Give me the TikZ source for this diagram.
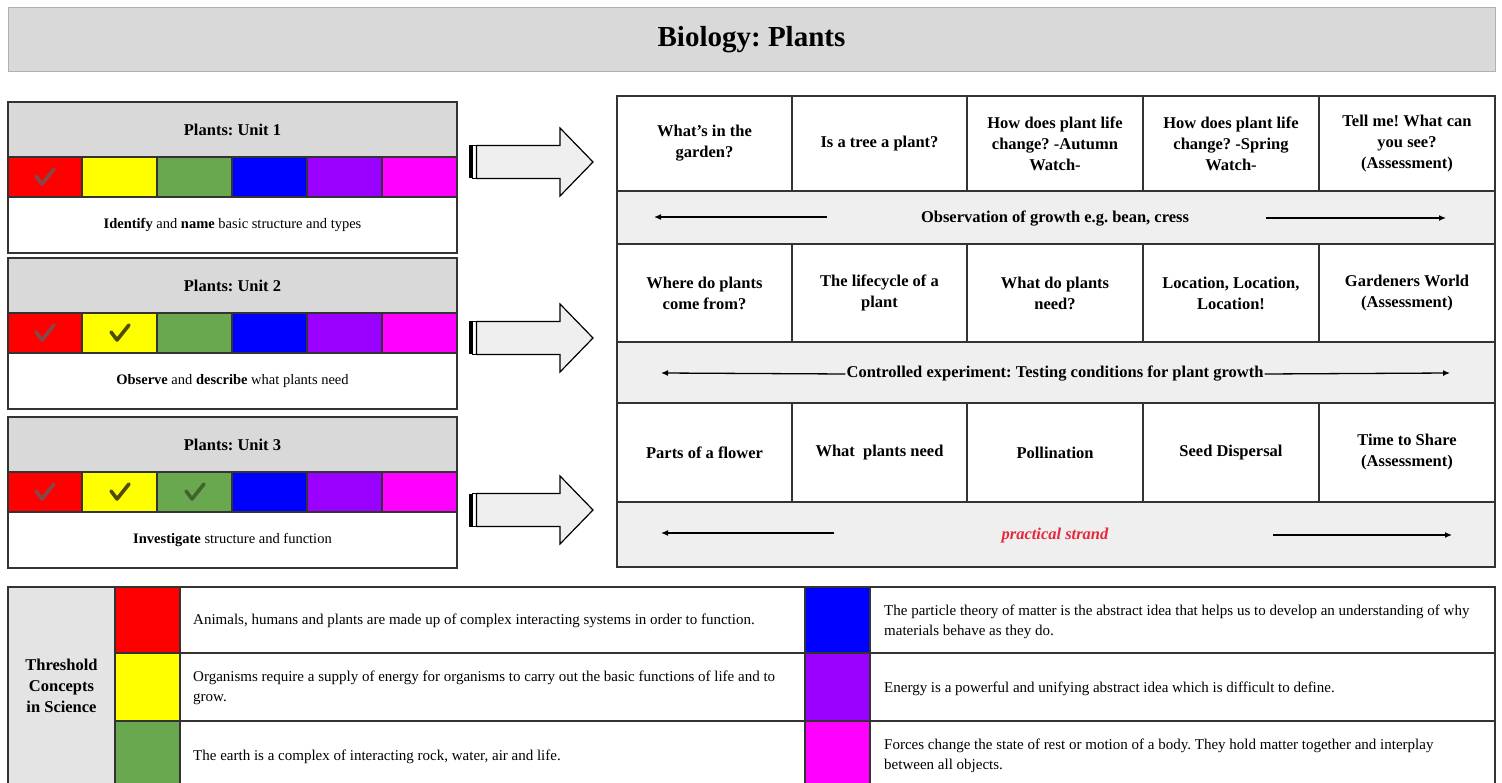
\documentclass[tikz,border=0pt]{standalone}
\usepackage{fontspec}
\setmainfont{Liberation Serif}
\usetikzlibrary{arrows.meta}
\frenchspacing
\definecolor{hdr}{HTML}{D9D9D9}
\definecolor{bandc}{HTML}{EFEFEF}
\definecolor{thrc}{HTML}{E4E4E4}
\definecolor{cred}{HTML}{FF0000}
\definecolor{cyel}{HTML}{FFFF00}
\definecolor{cgrn}{HTML}{6AA84F}
\definecolor{cblu}{HTML}{0000FF}
\definecolor{cpur}{HTML}{9900FF}
\definecolor{cmag}{HTML}{FF00FF}
\definecolor{linec}{HTML}{333333}
\definecolor{strandc}{HTML}{E8283A}
\definecolor{titleline}{HTML}{B0B0B0}
\definecolor{chkred}{HTML}{765252}
\newcommand\mkcell[7]{%
  \node[#6, minimum width={((#4)-(#2))*1pt}, minimum height={((#5)-(#3))*1pt}] (#1) at ({((#2)+(#4))/2},{((#3)+(#5))/2}) {#7};}
\newcommand\chk[3]{%
  \draw[line width=3.6pt, line cap=round, line join=round, #3] ({#1-9},{#2-1}) -- ({#1-3},{#2+7}) -- ({#1+9},{#2-8});}
\newcommand\blockarr[1]{%
  \fill[black] (469,{#1-16.5}) rectangle (472.5,{#1+16.5});
  \draw[line width=1pt, fill=white] (472.5,{#1-16.5}) rectangle (476.5,{#1+16.5});
  \draw[line width=1.2pt, fill=bandc, line join=miter]
    (476.5,{#1-16.5}) -- (560,{#1-16.5}) -- (560,{#1-34}) -- (593,{#1}) -- (560,{#1+34}) -- (560,{#1+16.5}) -- (476.5,{#1+16.5}) -- cycle;}
\begin{document}
\frenchspacing
\begin{tikzpicture}[x=1pt,y=-1pt,
  base/.style={draw=linec, line width=1.2pt, inner sep=0pt, outer sep=0pt, align=center},
  frame/.style={draw=linec, line width=2pt, inner sep=0pt, outer sep=0pt},
  gcell/.style={base, fill=white, font=\fontsize{16.5}{21}\selectfont\bfseries},
  bandcell/.style={base, fill=bandc},
  bandtxt/.style={inner sep=3pt, font=\fontsize{16.5}{21}\selectfont\bfseries},
  uhead/.style={base, fill=hdr, font=\fontsize{16.5}{20}\selectfont\bfseries},
  ucol/.style={base},
  udesc/.style={base, fill=white, font=\fontsize{14.5}{18}\selectfont},
  tcell/.style={base, fill=white},
  ttext/.style={anchor=west, inner sep=0pt, align=left, font=\fontsize{15}{20}\selectfont},
  thr/.style={base, fill=thrc, font=\fontsize{16.5}{21}\selectfont\bfseries},
  barrow/.style={line width=1.3pt, -{Latex[length=7pt,width=6pt]}},
  checkr/.style={chkred, opacity=0.9},
  checky/.style={black, opacity=0.7},
  checkg/.style={black, opacity=0.4}
]
\useasboundingbox (0,0) rectangle (1502,783);
\fill[white] (0,0) rectangle (1502,783);

% title
\mkcell{title}{8}{8}{1495}{72}{draw=titleline, fill=hdr, line width=1pt, inner sep=0pt, font=\fontsize{29}{34}\selectfont\bfseries}{Biology: Plants}

% unit boxes
\foreach \n/\t/\desc in {1/102/{\textbf{Identify} and \textbf{name} basic structure and types},
                         2/258/{\textbf{Observe} and \textbf{describe} what plants need},
                         3/417/{\textbf{Investigate} structure and function}}{
  \pgfmathsetmacro\ya{\t+55}
  \pgfmathsetmacro\yb{\t+95}
  \pgfmathsetmacro\yc{\t+151}
  \mkcell{u\n h}{8}{\t}{457}{\ya}{uhead}{Plants: Unit \n}
  \mkcell{u\n c1}{8}{\ya}{82}{\yb}{ucol, fill=cred}{}
  \mkcell{u\n c2}{82}{\ya}{157}{\yb}{ucol, fill=cyel}{}
  \mkcell{u\n c3}{157}{\ya}{232}{\yb}{ucol, fill=cgrn}{}
  \mkcell{u\n c4}{232}{\ya}{307}{\yb}{ucol, fill=cblu}{}
  \mkcell{u\n c5}{307}{\ya}{382}{\yb}{ucol, fill=cpur}{}
  \mkcell{u\n c6}{382}{\ya}{457}{\yb}{ucol, fill=cmag}{}
  \mkcell{u\n d}{8}{\yb}{457}{\yc}{udesc}{\desc}
  \mkcell{u\n f}{8}{\t}{457}{\yc}{frame}{}
}
% checks
\chk{45}{177}{checkr}
\chk{45}{333}{checkr}
\chk{120}{333}{checky}
\chk{45}{492}{checkr}
\chk{120}{492}{checky}
\chk{195}{492}{checkg}

% block arrows
\blockarr{162}
\blockarr{338}
\blockarr{510}

% grid row 1
\mkcell{g11}{617}{96}{792}{191}{gcell}{What's in the\\garden?}
\mkcell{g12}{792}{96}{967}{191}{gcell}{Is a tree a plant?}
\mkcell{g13}{967}{96}{1143}{191}{gcell}{How does plant life\\change? -Autumn\\Watch-}
\mkcell{g14}{1143}{96}{1319}{191}{gcell}{How does plant life\\change? -Spring\\Watch-}
\mkcell{g15}{1319}{96}{1495}{191}{gcell}{Tell me! What can\\you see?\\(Assessment)}
\mkcell{band1}{617}{191}{1495}{244}{bandcell}{}
\node[bandtxt] (b1t) at (1055,219) {Observation of growth e.g. bean, cress};
\coordinate (b1ls) at (827,217);
\coordinate (b1le) at (654,217);
\coordinate (b1rs) at (1266,218);
\coordinate (b1re) at (1446,218);
\draw[barrow] (b1ls) -- (b1le);
\draw[barrow] (b1rs) -- (b1re);

% grid row 2
\mkcell{g21}{617}{244}{792}{342}{gcell}{Where do plants\\come from?}
\mkcell{g22}{792}{244}{967}{342}{gcell}{The lifecycle of a\\plant}
\mkcell{g23}{967}{244}{1143}{342}{gcell}{What do plants\\need?}
\mkcell{g24}{1143}{244}{1319}{342}{gcell}{Location, Location,\\Location!}
\mkcell{g25}{1319}{244}{1495}{342}{gcell}{Gardeners World\\(Assessment)}
\mkcell{band2}{617}{342}{1495}{403}{bandcell}{}
\node[bandtxt, inner sep=1pt] (b2t) at (1055,374) {Controlled experiment: Testing conditions for plant growth};
\coordinate (b2le) at (661,373);
\coordinate (b2re) at (1450,373);
\draw[barrow] (b2t.west) -- (b2le);
\draw[barrow] (b2t.east) -- (b2re);

% grid row 3
\mkcell{g31}{617}{403}{792}{502}{gcell}{Parts of a flower}
\mkcell{g32}{792}{403}{967}{502}{gcell}{What\ \ plants need}
\mkcell{g33}{967}{403}{1143}{502}{gcell}{Pollination}
\mkcell{g34}{1143}{403}{1319}{502}{gcell}{Seed Dispersal}
\mkcell{g35}{1319}{403}{1495}{502}{gcell}{Time to Share\\(Assessment)}
\mkcell{band3}{617}{502}{1495}{567}{bandcell}{}
\node[bandtxt, text=strandc, font=\fontsize{16.5}{21}\selectfont\bfseries\itshape] (b3t) at (1055,536) {practical strand};
\coordinate (b3ls) at (834,533);
\coordinate (b3le) at (661,533);
\coordinate (b3rs) at (1273,535);
\coordinate (b3re) at (1452,535);
\draw[barrow] (b3ls) -- (b3le);
\draw[barrow] (b3rs) -- (b3re);
\mkcell{gframe}{617}{96}{1495}{567}{frame}{}

% threshold table
\mkcell{thr}{8}{587}{115}{784}{thr}{Threshold\\Concepts\\in Science}
\mkcell{tc1}{115}{587}{180}{653}{base, fill=cred}{}
\mkcell{tc2}{115}{653}{180}{721}{base, fill=cyel}{}
\mkcell{tc3}{115}{721}{180}{784}{base, fill=cgrn}{}
\mkcell{tt1}{180}{587}{805}{653}{tcell}{}
\mkcell{tt2}{180}{653}{805}{721}{tcell}{}
\mkcell{tt3}{180}{721}{805}{784}{tcell}{}
\mkcell{tc4}{805}{587}{870}{653}{base, fill=cblu}{}
\mkcell{tc5}{805}{653}{870}{721}{base, fill=cpur}{}
\mkcell{tc6}{805}{721}{870}{784}{base, fill=cmag}{}
\mkcell{tt4}{870}{587}{1495}{653}{tcell}{}
\mkcell{tt5}{870}{653}{1495}{721}{tcell}{}
\mkcell{tt6}{870}{721}{1495}{784}{tcell}{}
\mkcell{tframe}{8}{587}{1495}{784}{frame}{}

\node[ttext] (tx1) at (193,621) {Animals, humans and plants are made up of complex interacting systems in order to function.};
\node[ttext] (tx2) at (193,688) {Organisms require a supply of energy for organisms to carry out the basic functions of life and to\\grow.};
\node[ttext] (tx3) at (193,757) {The earth is a complex of interacting rock, water, air and life.};
\node[ttext] (tx4) at (884,622) {The particle theory of matter is the abstract idea that helps us to develop an understanding of why\\materials behave as they do.};
\node[ttext] (tx5) at (884,689) {Energy is a powerful and unifying abstract idea which is difficult to define.};
\node[ttext] (tx6) at (884,756) {Forces change the state of rest or motion of a body. They hold matter together and interplay\\between all objects.};
\end{tikzpicture}
\end{document}
